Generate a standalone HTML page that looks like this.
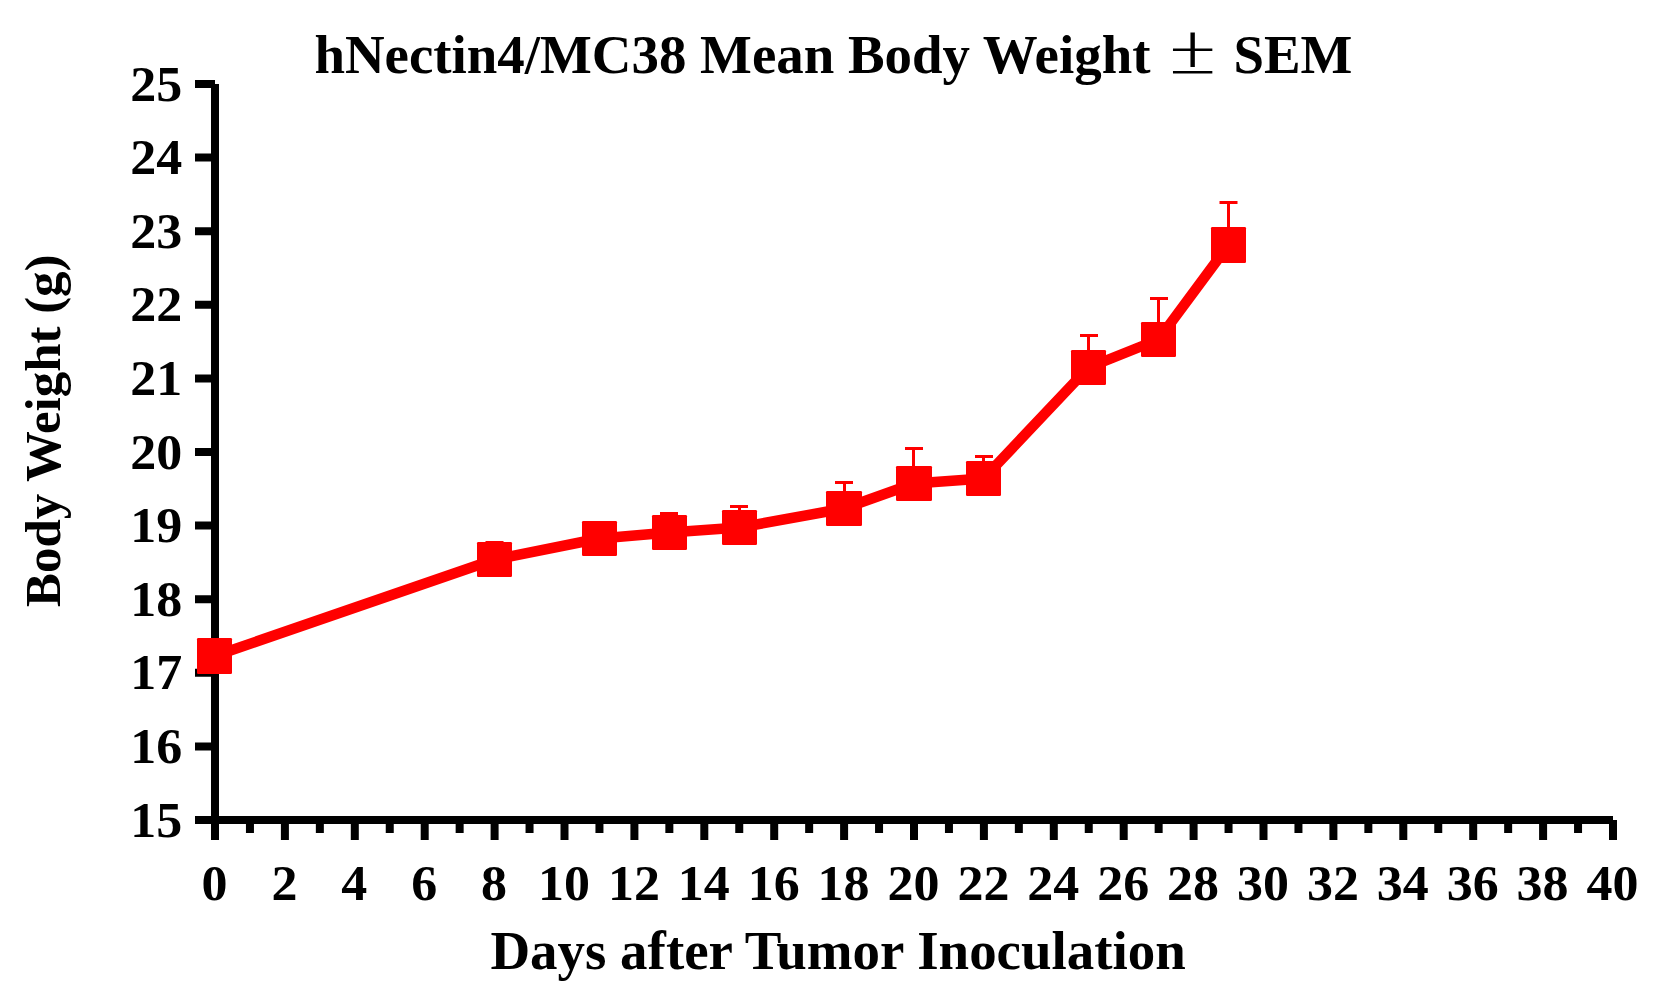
<!DOCTYPE html><html><head><meta charset="utf-8"><title>hNectin4/MC38 Mean Body Weight</title>
<style>html,body{margin:0;padding:0;background:#fff;overflow:hidden;}svg{display:block;}text{font-family:"Liberation Serif","Times New Roman",serif;font-weight:bold;fill:#000;}</style></head><body>
<svg width="1678" height="994" viewBox="0 0 1678 994">
<rect width="1678" height="994" fill="#fff"/>
<defs><filter id="thk" x="-10%" y="-10%" width="120%" height="120%"><feMorphology operator="dilate" radius="1.1 0"/></filter></defs>
<text x="314.4" y="73" font-size="54.9">hNectin4/MC38 Mean Body Weight</text>
<text transform="translate(1167.8 74.3) scale(0.944 1)" font-size="52.8" filter="url(#thk)" style="font-family:'Noto Serif CJK SC',serif">±</text>
<text x="1233.4" y="73" font-size="54.9">SEM</text>
<path d="M215 84V840 M195 820H1613 M195 820.00H215 M195 746.40H215 M195 672.80H215 M195 599.20H215 M195 525.60H215 M195 452.00H215 M195 378.40H215 M195 304.80H215 M195 231.20H215 M195 157.60H215 M195 84.00H215 M249.95 820V833 M284.90 820V840 M319.85 820V833 M354.80 820V840 M389.75 820V833 M424.70 820V840 M459.65 820V833 M494.60 820V840 M529.55 820V833 M564.50 820V840 M599.45 820V833 M634.40 820V840 M669.35 820V833 M704.30 820V840 M739.25 820V833 M774.20 820V840 M809.15 820V833 M844.10 820V840 M879.05 820V833 M914.00 820V840 M948.95 820V833 M983.90 820V840 M1018.85 820V833 M1053.80 820V840 M1088.75 820V833 M1123.70 820V840 M1158.65 820V833 M1193.60 820V840 M1228.55 820V833 M1263.50 820V840 M1298.45 820V833 M1333.40 820V840 M1368.35 820V833 M1403.30 820V840 M1438.25 820V833 M1473.20 820V840 M1508.15 820V833 M1543.10 820V840 M1578.05 820V833 M1613.00 820V840" stroke="#000" stroke-width="8" fill="none"/>
<text transform="translate(182.3 100.6) scale(1 0.955)" font-size="52" text-anchor="end">25</text>
<text transform="translate(182.3 174.2) scale(1 0.955)" font-size="52" text-anchor="end">24</text>
<text transform="translate(182.3 247.8) scale(1 0.955)" font-size="52" text-anchor="end">23</text>
<text transform="translate(182.3 321.4) scale(1 0.955)" font-size="52" text-anchor="end">22</text>
<text transform="translate(182.3 395.0) scale(1 0.955)" font-size="52" text-anchor="end">21</text>
<text transform="translate(182.3 468.6) scale(1 0.955)" font-size="52" text-anchor="end">20</text>
<text transform="translate(182.3 542.2) scale(1 0.955)" font-size="52" text-anchor="end">19</text>
<text transform="translate(182.3 615.8) scale(1 0.955)" font-size="52" text-anchor="end">18</text>
<text transform="translate(182.3 689.4) scale(1 0.955)" font-size="52" text-anchor="end">17</text>
<text transform="translate(182.3 763.0) scale(1 0.955)" font-size="52" text-anchor="end">16</text>
<text transform="translate(182.3 836.6) scale(1 0.955)" font-size="52" text-anchor="end">15</text>
<text transform="translate(214.5 900) scale(1 0.955)" font-size="52" text-anchor="middle">0</text>
<text transform="translate(284.4 900) scale(1 0.955)" font-size="52" text-anchor="middle">2</text>
<text transform="translate(354.3 900) scale(1 0.955)" font-size="52" text-anchor="middle">4</text>
<text transform="translate(424.2 900) scale(1 0.955)" font-size="52" text-anchor="middle">6</text>
<text transform="translate(494.1 900) scale(1 0.955)" font-size="52" text-anchor="middle">8</text>
<text transform="translate(564.0 900) scale(1 0.955)" font-size="52" text-anchor="middle">10</text>
<text transform="translate(633.9 900) scale(1 0.955)" font-size="52" text-anchor="middle">12</text>
<text transform="translate(703.8 900) scale(1 0.955)" font-size="52" text-anchor="middle">14</text>
<text transform="translate(773.7 900) scale(1 0.955)" font-size="52" text-anchor="middle">16</text>
<text transform="translate(843.6 900) scale(1 0.955)" font-size="52" text-anchor="middle">18</text>
<text transform="translate(913.5 900) scale(1 0.955)" font-size="52" text-anchor="middle">20</text>
<text transform="translate(983.4 900) scale(1 0.955)" font-size="52" text-anchor="middle">22</text>
<text transform="translate(1053.3 900) scale(1 0.955)" font-size="52" text-anchor="middle">24</text>
<text transform="translate(1123.2 900) scale(1 0.955)" font-size="52" text-anchor="middle">26</text>
<text transform="translate(1193.1 900) scale(1 0.955)" font-size="52" text-anchor="middle">28</text>
<text transform="translate(1263.0 900) scale(1 0.955)" font-size="52" text-anchor="middle">30</text>
<text transform="translate(1332.9 900) scale(1 0.955)" font-size="52" text-anchor="middle">32</text>
<text transform="translate(1402.8 900) scale(1 0.955)" font-size="52" text-anchor="middle">34</text>
<text transform="translate(1472.7 900) scale(1 0.955)" font-size="52" text-anchor="middle">36</text>
<text transform="translate(1542.6 900) scale(1 0.955)" font-size="52" text-anchor="middle">38</text>
<text transform="translate(1612.5 900) scale(1 0.955)" font-size="52" text-anchor="middle">40</text>
<text x="490.4" y="969" font-size="54.95">Days after Tumor Inoculation</text>
<text transform="translate(60 607) rotate(-90)" font-size="50.9">Body Weight (g)</text>
<path d="M493 541h3V559.5h-3Z M485.5 541h18v3h-18Z M668 512h3V532.5h-3Z M660 512h18v3h-18Z M738 505h3V527.5h-3Z M730 505h18v3h-18Z M843 481h3V508.5h-3Z M835 481h18v3h-18Z M912 447h3V483.5h-3Z M905 447h18v3h-18Z M982 455h3V478.5h-3Z M975 455h18v3h-18Z M1087 334h3V367.5h-3Z M1080 334h18v3h-18Z M1157 297h3V339.5h-3Z M1150 297h18v3h-18Z M1227 201h3V245.0h-3Z M1219.5 201h18v3h-18Z" fill="#f00"/>
<polyline points="214.5,656.0 494.5,559.5 599.5,538.5 669.5,532.5 739.5,527.5 844.0,508.5 914.0,483.5 983.5,478.5 1088.5,367.5 1158.5,339.5 1228.5,245.0" stroke="#f00" stroke-width="10.5" fill="none" stroke-linejoin="round"/>
<rect x="197" y="638" width="35" height="36" rx="1.2" fill="#f00"/>
<rect x="477" y="542" width="35" height="35" rx="1.2" fill="#f00"/>
<rect x="582" y="521" width="35" height="35" rx="1.2" fill="#f00"/>
<rect x="652" y="515" width="35" height="35" rx="1.2" fill="#f00"/>
<rect x="722" y="510" width="35" height="35" rx="1.2" fill="#f00"/>
<rect x="826" y="491" width="36" height="35" rx="1.2" fill="#f00"/>
<rect x="896" y="466" width="36" height="35" rx="1.2" fill="#f00"/>
<rect x="966" y="461" width="35" height="35" rx="1.2" fill="#f00"/>
<rect x="1071" y="350" width="35" height="35" rx="1.2" fill="#f00"/>
<rect x="1141" y="322" width="35" height="35" rx="1.2" fill="#f00"/>
<rect x="1211" y="227" width="35" height="36" rx="1.2" fill="#f00"/>
</svg></body></html>
